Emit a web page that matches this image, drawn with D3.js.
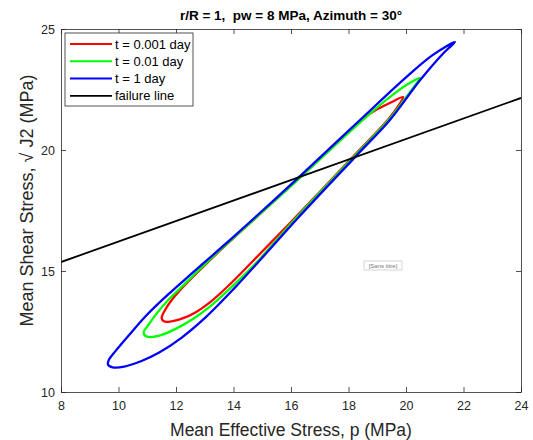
<!DOCTYPE html>
<html>
<head>
<meta charset="utf-8">
<script src="https://cdn.jsdelivr.net/npm/d3@7"></script>
<style>
  body { margin: 0; background: #fff; }
  svg text { font-family: "Liberation Sans", Arial, Helvetica, sans-serif; }
</style>
</head>
<body>
<svg id="chart" width="533" height="440"></svg>
<script>
// Axis ticks
const xTicks = [8, 10, 12, 14, 16, 18, 20, 22, 24];
const yTicks = [10, 15, 20, 25];

// Legend entries and colours
const seriesNames = ["t = 0.001 day", "t = 0.01 day", "t = 1 day", "failure line"];
const seriesColors = ["#ff0000", "#00ff00", "#0000ff", "#000000"];

// Stress paths around the wellbore (p, sqrt(J2)) in MPa, closed loops
const redP = [19.90, 19.45, 18.95, 18.45, 16.30, 15.10, 13.60, 12.14, 11.85, 11.62, 11.50, 11.58,
              11.73, 12.25, 12.72, 13.18, 13.85, 14.60, 16.18, 18.22, 19.38, 19.75];
const redQ = [22.19, 21.95, 21.65, 21.24, 18.86, 17.55, 15.92, 14.21, 13.80, 13.39, 13.05, 12.92,
              12.90, 13.05, 13.32, 13.70, 14.42, 15.32, 17.25, 19.80, 21.26, 21.85];

const greenP = [20.50, 20.10, 19.50, 18.55, 16.30, 15.08, 13.56, 12.08, 11.73, 11.33, 11.04, 10.88,
                10.92, 11.10, 11.50, 12.02, 12.60, 13.20, 13.90, 14.80, 16.20, 18.25, 19.40, 20.05, 20.40];
const greenQ = [22.97, 22.75, 22.25, 21.30, 18.84, 17.52, 15.90, 14.21, 13.80, 13.25, 12.77, 12.50,
                12.33, 12.27, 12.36, 12.63, 13.03, 13.55, 14.30, 15.35, 17.22, 19.80, 21.25, 22.25, 22.80];

const blueP = [21.70, 20.90, 20.00, 18.40, 16.24, 15.03, 13.80, 12.60, 11.70, 11.00, 10.40, 9.90,
               9.66, 9.64, 9.80, 10.20, 10.80, 11.40, 12.20, 13.00, 14.00, 15.10, 16.24, 18.30,
               19.44, 20.50, 21.30];
const blueQ = [24.46, 23.90, 23.00, 21.24, 18.84, 17.52, 16.20, 14.95, 14.00, 13.20, 12.40, 11.70,
               11.32, 11.12, 11.02, 11.05, 11.28, 11.62, 12.25, 13.05, 14.25, 15.68, 17.19, 19.80,
               21.24, 22.90, 24.00];

// Failure line end points
const failP = [8, 24];
const failQ = [15.37, 22.15];

const svg = d3.select("#chart");
const W = 533, H = 440;
const m = { left: 61, right: 12, top: 29, bottom: 48 };
const x0 = m.left, x1 = W - m.right, y0 = m.top, y1 = H - m.bottom;

const x = d3.scaleLinear().domain([8, 24]).range([x0, x1]);
const y = d3.scaleLinear().domain([10, 25]).range([y1, y0]);

const axisColor = "#262626";

svg.append("rect").attr("x", x0).attr("y", y0).attr("width", x1 - x0).attr("height", y1 - y0)
  .attr("fill", "#fff");

const plot = svg.append("g");
plot.append("clipPath").attr("id", "clip").append("rect")
  .attr("x", x0).attr("y", y0).attr("width", x1 - x0).attr("height", y1 - y0);
const marks = plot.append("g").attr("clip-path", "url(#clip)");

const loop = d3.line().x(d => x(d[0])).y(d => y(d[1])).curve(d3.curveCatmullRomClosed.alpha(0.5));
const zip = (a, b) => a.map((v, i) => [v, b[i]]);

const loops = [zip(redP, redQ), zip(greenP, greenQ), zip(blueP, blueQ)];
loops.forEach((pts, i) => {
  marks.append("path").attr("d", loop(pts)).attr("fill", "none")
    .attr("stroke", seriesColors[i]).attr("stroke-width", 2.3).attr("stroke-linejoin", "round");
});

marks.append("path").attr("d", d3.line().x(d => x(d[0])).y(d => y(d[1]))(zip(failP, failQ)))
  .attr("fill", "none").attr("stroke", seriesColors[3]).attr("stroke-width", 1.8);

// Axes with inward ticks on all four sides
const tk = 5;
const gB = svg.append("g").attr("transform", `translate(0,${y1})`)
  .call(d3.axisBottom(x).tickValues(xTicks).tickSizeInner(-tk).tickSizeOuter(0).tickPadding(9).tickFormat(d3.format("d")));
const gT = svg.append("g").attr("transform", `translate(0,${y0})`)
  .call(d3.axisTop(x).tickValues(xTicks).tickSizeInner(-tk).tickSizeOuter(0).tickFormat(""));
const gL = svg.append("g").attr("transform", `translate(${x0},0)`)
  .call(d3.axisLeft(y).tickValues(yTicks).tickSizeInner(-tk).tickSizeOuter(0).tickPadding(6).tickFormat(d3.format("d")));
const gR = svg.append("g").attr("transform", `translate(${x1},0)`)
  .call(d3.axisRight(y).tickValues(yTicks).tickSizeInner(-tk).tickSizeOuter(0).tickFormat(""));

[gB, gT, gL, gR].forEach(g => {
  g.select(".domain").attr("stroke", axisColor).attr("stroke-width", 0.8);
  g.selectAll(".tick line").attr("stroke", axisColor).attr("stroke-width", 0.8);
  g.selectAll(".tick text").attr("fill", axisColor).style("font-size", "12.5px");
});

// Title and axis labels
svg.append("text").attr("x", (x0 + x1) / 2).attr("y", 20).attr("text-anchor", "middle")
  .style("font-size", "13.5px").style("font-weight", "bold").style("white-space", "pre")
  .attr("fill", "#000")
  .text("r/R = 1,  pw = 8 MPa, Azimuth = 30°");

svg.append("text").attr("x", (x0 + x1) / 2).attr("y", 436).attr("text-anchor", "middle")
  .style("font-size", "17.5px").attr("fill", axisColor)
  .text("Mean Effective Stress, p (MPa)");

svg.append("text").attr("transform", `translate(33,${(y0 + y1) / 2 - 10}) rotate(-90)`)
  .attr("text-anchor", "middle").style("font-size", "18px").attr("fill", axisColor)
  .text("Mean Shear Stress, √ J2 (MPa)");

// Small placeholder annotation inside the axes
const ann = svg.append("g").attr("transform", "translate(364,261)");
ann.append("rect").attr("width", 38).attr("height", 9).attr("fill", "#fff")
  .attr("stroke", "#bbb").attr("stroke-width", 0.6);
ann.append("text").attr("x", 19).attr("y", 6.8).attr("text-anchor", "middle")
  .style("font-size", "6px").attr("fill", "#777").text("[Sans titre]");

// Legend
const lg = svg.append("g").attr("transform", "translate(65,33)");
lg.append("rect").attr("width", 128).attr("height", 73).attr("fill", "#fff")
  .attr("stroke", "#262626").attr("stroke-width", 0.8);
seriesNames.forEach((name, i) => {
  const yy = 11 + i * 17.3;
  lg.append("line").attr("x1", 5).attr("x2", 47).attr("y1", yy).attr("y2", yy)
    .attr("stroke", seriesColors[i]).attr("stroke-width", i === 3 ? 1.8 : 2);
  lg.append("text").attr("x", 50).attr("y", yy + 4.5).style("font-size", "13px")
    .attr("fill", "#000").text(name);
});
</script>
</body>
</html>
